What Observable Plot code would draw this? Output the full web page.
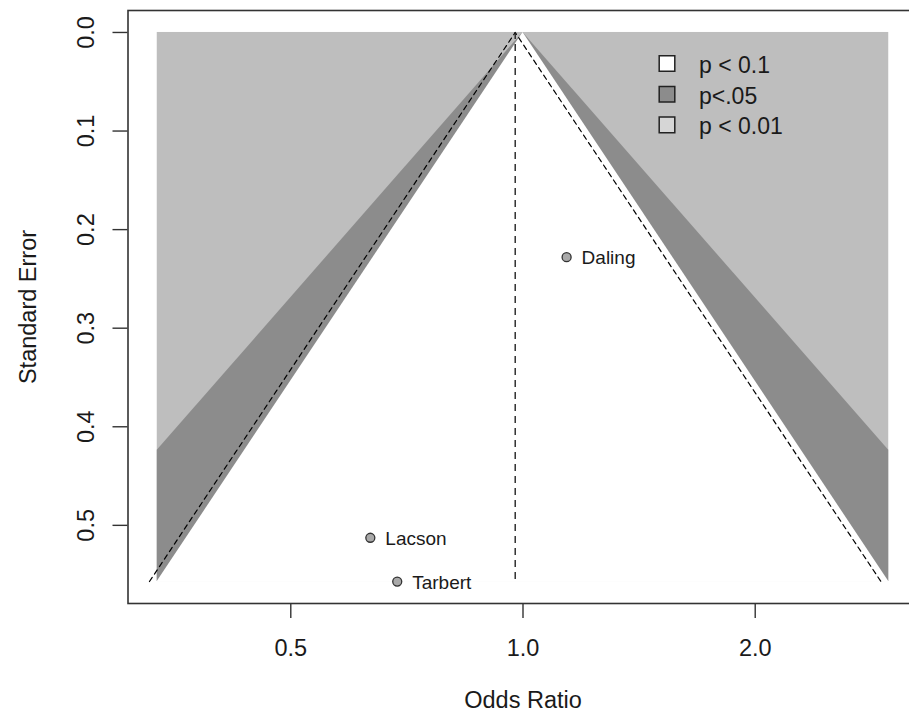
<!DOCTYPE html>
<html>
<head>
<meta charset="utf-8">
<script src="https://cdn.jsdelivr.net/npm/d3@7"></script>
<script src="https://cdn.jsdelivr.net/npm/@observablehq/plot@0.6"></script>
<style>
  html, body { margin: 0; padding: 0; background: #fff; }
  #chart { width: 909px; height: 726px; overflow: hidden; }
</style>
</head>
<body>
<div id="chart"></div>
<script>
// ---- data ----
const studies   = ["Daling", "Lacson", "Tarbert"];
const oddsRatio = [1.139, 0.634, 0.687];
const stdError  = [0.228, 0.5126, 0.557];
const pooledOR  = 0.977;                       // fixed-effect estimate (vertical dashed line)
const legendLabels = ["p < 0.1", "p<.05", "p < 0.01"];
const legendFills  = ["#ffffff", "#8c8c8c", "#d6d6d6"];
const contourZ     = [1.645, 1.96, 2.576];     // 90%, 95%, 99% contours
const xTicks = [0.5, 1.0, 2.0];
const yTicks = [0.0, 0.1, 0.2, 0.3, 0.4, 0.5];

// ---- derived ----
const data = studies.map((s, i) => ({study: s, or: oddsRatio[i], se: stdError[i]}));
const seMax = d3.max(stdError);
const xlimLn = contourZ[1] * seMax;            // shaded region spans ref ± 1.96*max SE
const xMin = Math.exp(-xlimLn), xMax = Math.exp(xlimLn);
const xPad = 0.08 * xlimLn;
const yPad = 0.04 * seMax;
const clampX = v => Math.min(xMax, Math.max(xMin, v));

const darkSamples = [0, xlimLn / contourZ[2], seMax];
const whiteSamples = [0, seMax];
const ciLine = [
  {x: pooledOR * Math.exp(-contourZ[1] * seMax), y: seMax},
  {x: pooledOR, y: 0},
  {x: pooledOR * Math.exp(contourZ[1] * seMax), y: seMax}
];

const FONT = "'Liberation Sans', Arial, Helvetica, sans-serif";
const INK = "#1a1a1a";

const legendMarks = legendLabels.flatMap((lab, i) => [
  Plot.dot([lab], {frameAnchor: "top-left", dx: 539, dy: 53 + i * 30.7,
    symbol: "square", r: 8.8, fill: legendFills[i], stroke: "#222", strokeWidth: 1.5}),
  Plot.text([lab], {frameAnchor: "top-left", dx: 571, dy: 55 + i * 30.7,
    text: d => d, textAnchor: "start", lineAnchor: "middle", fontSize: 23, fill: INK})
]);

const chart = Plot.plot({
  width: 909,
  height: 726,
  marginLeft: 127.5,
  marginRight: -8.5,
  marginTop: 10,
  marginBottom: 123,
  style: {fontFamily: FONT, background: "#fff", overflow: "hidden"},
  x: {type: "log", domain: [Math.exp(-xlimLn - xPad), Math.exp(xlimLn + xPad)]},
  y: {domain: [-yPad, seMax + yPad], reverse: true},
  marks: [
    // contour shading
    Plot.rect([0], {x1: xMin, x2: xMax, y1: 0, y2: seMax, fill: "#bebebe"}),
    Plot.areaX(darkSamples, {y: d => d,
      x1: d => clampX(Math.exp(-contourZ[2] * d)),
      x2: d => clampX(Math.exp(contourZ[2] * d)), fill: "#8c8c8c"}),
    Plot.areaX(whiteSamples, {y: d => d,
      x1: d => clampX(Math.exp(-contourZ[1] * d)),
      x2: d => clampX(Math.exp(contourZ[1] * d)), fill: "#ffffff"}),
    // pseudo confidence region and pooled estimate
    Plot.line(ciLine, {x: "x", y: "y", stroke: "#000", strokeWidth: 1.2, strokeDasharray: "5,4"}),
    Plot.ruleX([pooledOR], {y1: 0, y2: seMax, stroke: "#222", strokeWidth: 1.4, strokeDasharray: "7,5"}),
    // studies
    Plot.dot(data, {x: "or", y: "se", r: 4.5, fill: "#a9a9a9", stroke: "#333", strokeWidth: 1.3}),
    Plot.text(data, {x: "or", y: "se", text: "study", dx: 15, dy: 1, textAnchor: "start", fontSize: 19, fill: INK}),
    // legend
    ...legendMarks,
    // axes
    Plot.axisX({ticks: xTicks, tickFormat: ".1f", tickSize: 15, tickPadding: 21,
      fontSize: 23.5, label: null, stroke: "#333", strokeWidth: 1.4, fill: INK}),
    Plot.axisY({ticks: yTicks, tickFormat: ".1f", tickRotate: -90, tickSize: 15, tickPadding: 19,
      fontSize: 23.5, label: null, stroke: "#333", strokeWidth: 1.4, fill: INK}),
    Plot.text(["Odds Ratio"], {frameAnchor: "bottom", dy: 104, text: d => d, fontSize: 23.5, fill: INK}),
    Plot.text(["Standard Error"], {frameAnchor: "left", dx: -99.5, rotate: -90, textAnchor: "middle",
      lineAnchor: "middle", text: d => d, fontSize: 23.5, fill: INK}),
    Plot.frame({stroke: "#333", strokeWidth: 1.6})
  ]
});
document.getElementById("chart").appendChild(chart);
</script>
</body>
</html>
